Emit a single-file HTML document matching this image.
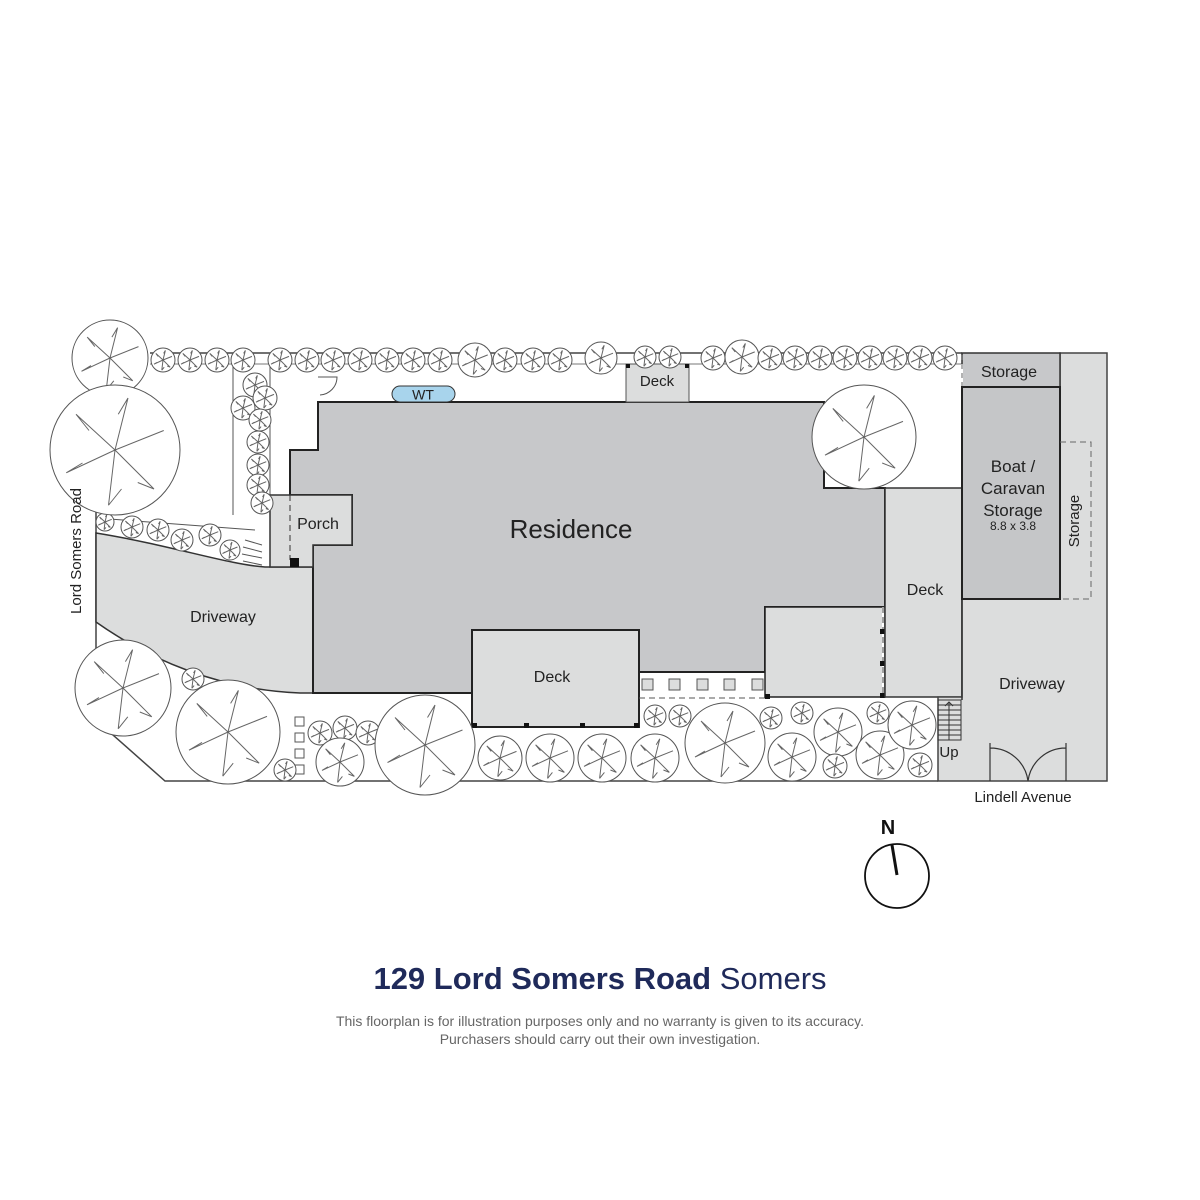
<!DOCTYPE html>
<html><head><meta charset="utf-8"><style>
html,body{margin:0;padding:0;background:#fff;}
svg{display:block;}
text{font-family:"Liberation Sans",sans-serif;fill:#222;}
</style></head><body>
<svg width="1200" height="1200" viewBox="0 0 1200 1200" xmlns="http://www.w3.org/2000/svg">
<defs>
<g id="tr">
<circle r="1" fill="#fff" stroke="#555" stroke-width="1" vector-effect="non-scaling-stroke"/>
<path d="M0,0 L0.2,-0.8 M0,0 L0.75,-0.3 M0,0 L0.6,0.6 M0,0 L-0.1,0.85 M0,0 L-0.75,0.35 M0,0 L-0.6,-0.55 M0.2,-0.8 L0.05,-0.55 M0.75,-0.3 L0.5,-0.2 M-0.75,0.35 L-0.5,0.2 M0.6,0.6 L0.35,0.5 M-0.6,-0.55 L-0.4,-0.3 M-0.1,0.85 L0.1,0.6" fill="none" stroke="#666" stroke-width="1" vector-effect="non-scaling-stroke"/>
</g>
</defs>

<!-- lot outline -->
<path d="M150,353 L962,353 M96,505 L96,720 L165,781 L938,781" fill="none" stroke="#444" stroke-width="1.5"/>
<path d="M150,364 L962,364" fill="none" stroke="#777" stroke-width="1"/>
<path d="M270,364 L270,495 M233,364 L233,515" fill="none" stroke="#555" stroke-width="1"/>

<!-- left driveway -->
<path d="M96,533 C170,545 230,565 265,567 L313,567 L313,693 L300,693 C220,690 150,660 96,622 Z" fill="#dcdddd" stroke="#333" stroke-width="1.5"/>
<path d="M96,518 L255,530" stroke="#555" fill="none"/>

<!-- residence -->
<path d="M318,402 L824,402 L824,488 L885,488 L885,607 L765,607 L765,672 L639,672 L639,630 L472,630 L472,693 L313,693 L313,545 L352,545 L352,495 L290,495 L290,450 L318,450 Z" fill="#c7c8ca" stroke="#222" stroke-width="2"/>
<path d="M270,495 L352,495 L352,545 L313,545 L313,567 L270,567 Z" fill="#dcdddd" stroke="#333" stroke-width="1.5"/>
<line x1="290" y1="495" x2="290" y2="560" stroke="#333" stroke-dasharray="6,4"/>
<rect x="290" y="558" width="9" height="9" fill="#111"/>
<rect x="626" y="364" width="63" height="38" fill="#dcdddd" stroke="#555" stroke-width="1"/>
<rect x="626" y="364" width="4" height="4" fill="#111"/><rect x="685" y="364" width="4" height="4" fill="#111"/>
<rect x="392" y="386" width="63" height="16" rx="8" fill="#a8d4ec" stroke="#333"/>
<text x="423" y="399.5" font-size="14" text-anchor="middle">WT</text>
<path d="M318,377 L337,377 A18,18 0 0 1 320,395" fill="none" stroke="#555"/>

<rect x="472" y="630" width="167" height="97" fill="#dcdddd" stroke="#222" stroke-width="2"/>
<rect x="472" y="723" width="5" height="5" fill="#111"/><rect x="524" y="723" width="5" height="5" fill="#111"/><rect x="580" y="723" width="5" height="5" fill="#111"/><rect x="634" y="723" width="5" height="5" fill="#111"/>
<g fill="#dcdddd" stroke="#555">
<rect x="642" y="679" width="11" height="11"/><rect x="669" y="679" width="11" height="11"/><rect x="697" y="679" width="11" height="11"/><rect x="724" y="679" width="11" height="11"/><rect x="752" y="679" width="11" height="11"/>
</g>
<line x1="639" y1="698" x2="765" y2="698" stroke="#555" stroke-dasharray="6,4"/>
<path d="M765,607 L885,607 L885,697 L765,697 Z" fill="#dcdddd" stroke="#222" stroke-width="1.5"/>
<line x1="883" y1="607" x2="883" y2="697" stroke="#fff" stroke-width="2"/>
<line x1="883" y1="607" x2="883" y2="697" stroke="#444" stroke-dasharray="6,4"/>
<rect x="765" y="694" width="5" height="5" fill="#111"/><rect x="880" y="629" width="5" height="5" fill="#111"/><rect x="880" y="661" width="5" height="5" fill="#111"/><rect x="880" y="693" width="5" height="5" fill="#111"/>
<rect x="885" y="488" width="77" height="209" fill="#dcdddd" stroke="#333" stroke-width="1.5"/>

<path d="M962,599 L1060,599 L1060,353 L1107,353 L1107,781 L938,781 L938,697 L962,697 Z" fill="#dcdddd" stroke="#444" stroke-width="1.5"/>
<line x1="962" y1="599" x2="962" y2="700" stroke="#333" stroke-width="1.5"/>
<rect x="962" y="353" width="98" height="34" fill="#c7c8ca" stroke="#333" stroke-width="1.5"/>
<line x1="962" y1="364" x2="962" y2="390" stroke="#fff" stroke-width="2"/>
<line x1="962" y1="355" x2="962" y2="390" stroke="#666" stroke-dasharray="5,4"/>
<rect x="962" y="387" width="98" height="212" fill="#c5c6c8" stroke="#222" stroke-width="2"/>
<path d="M1060,442 L1091,442 L1091,599 L1060,599" fill="none" stroke="#666" stroke-dasharray="6,4"/>
<g stroke="#333" stroke-width="1" fill="none">
<rect x="938" y="700" width="23" height="40"/>
<path d="M938,705H961M938,710H961M938,715H961M938,720H961M938,725H961M938,730H961M938,735H961M949,702V740M945,706L949,702L953,706"/>
</g>
<path d="M990,743 L990,781 M1066,743 L1066,781 M990,748 A38,38 0 0 1 1028,781 M1066,748 A38,38 0 0 0 1028,781" fill="none" stroke="#333" stroke-width="1.2"/>

<g fill="#fff" stroke="#555"><rect x="295" y="717" width="9" height="9"/><rect x="295" y="733" width="9" height="9"/><rect x="295" y="749" width="9" height="9"/><rect x="295" y="765" width="9" height="9"/></g>
<path d="M245,540 L262,545 M243,547 L262,552 M242,554 L262,558 M243,561 L262,565" stroke="#555"/>

<g>
<use href="#tr" transform="translate(163,360) scale(12)"/><use href="#tr" transform="translate(190,360) scale(12)"/><use href="#tr" transform="translate(217,360) scale(12)"/><use href="#tr" transform="translate(243,360) scale(12)"/><use href="#tr" transform="translate(280,360) scale(12)"/><use href="#tr" transform="translate(307,360) scale(12)"/><use href="#tr" transform="translate(333,360) scale(12)"/><use href="#tr" transform="translate(360,360) scale(12)"/><use href="#tr" transform="translate(387,360) scale(12)"/><use href="#tr" transform="translate(413,360) scale(12)"/><use href="#tr" transform="translate(440,360) scale(12)"/><use href="#tr" transform="translate(475,360) scale(17)"/><use href="#tr" transform="translate(505,360) scale(12)"/><use href="#tr" transform="translate(533,360) scale(12)"/><use href="#tr" transform="translate(560,360) scale(12)"/><use href="#tr" transform="translate(601,358) scale(16)"/><use href="#tr" transform="translate(645,357) scale(11)"/><use href="#tr" transform="translate(670,357) scale(11)"/><use href="#tr" transform="translate(713,358) scale(12)"/><use href="#tr" transform="translate(742,357) scale(17)"/><use href="#tr" transform="translate(770,358) scale(12)"/><use href="#tr" transform="translate(795,358) scale(12)"/><use href="#tr" transform="translate(820,358) scale(12)"/><use href="#tr" transform="translate(845,358) scale(12)"/><use href="#tr" transform="translate(870,358) scale(12)"/><use href="#tr" transform="translate(895,358) scale(12)"/><use href="#tr" transform="translate(920,358) scale(12)"/><use href="#tr" transform="translate(945,358) scale(12)"/>
</g>
<g>
<use href="#tr" transform="translate(255,385) scale(12)"/><use href="#tr" transform="translate(243,408) scale(12)"/><use href="#tr" transform="translate(265,398) scale(12)"/><use href="#tr" transform="translate(260,420) scale(11)"/><use href="#tr" transform="translate(258,442) scale(11)"/><use href="#tr" transform="translate(258,465) scale(11)"/><use href="#tr" transform="translate(258,485) scale(11)"/><use href="#tr" transform="translate(262,503) scale(11)"/>
<use href="#tr" transform="translate(105,522) scale(9)"/><use href="#tr" transform="translate(132,527) scale(11)"/><use href="#tr" transform="translate(158,530) scale(11)"/><use href="#tr" transform="translate(182,540) scale(11)"/><use href="#tr" transform="translate(210,535) scale(11)"/><use href="#tr" transform="translate(230,550) scale(10)"/>
</g>
<use href="#tr" transform="translate(110,358) scale(38)"/>
<use href="#tr" transform="translate(115,450) scale(65)"/>
<use href="#tr" transform="translate(864,437) scale(52)"/>
<use href="#tr" transform="translate(123,688) scale(48)"/>
<use href="#tr" transform="translate(228,732) scale(52)"/>
<use href="#tr" transform="translate(193,679) scale(11)"/>
<use href="#tr" transform="translate(285,770) scale(11)"/>
<use href="#tr" transform="translate(320,733) scale(12)"/><use href="#tr" transform="translate(345,728) scale(12)"/><use href="#tr" transform="translate(368,733) scale(12)"/>
<use href="#tr" transform="translate(340,762) scale(24)"/>
<use href="#tr" transform="translate(425,745) scale(50)"/>
<use href="#tr" transform="translate(500,758) scale(22)"/>
<use href="#tr" transform="translate(550,758) scale(24)"/>
<use href="#tr" transform="translate(602,758) scale(24)"/>
<use href="#tr" transform="translate(655,758) scale(24)"/>
<use href="#tr" transform="translate(655,716) scale(11)"/><use href="#tr" transform="translate(680,716) scale(11)"/><use href="#tr" transform="translate(771,718) scale(11)"/><use href="#tr" transform="translate(802,713) scale(11)"/><use href="#tr" transform="translate(878,713) scale(11)"/>
<use href="#tr" transform="translate(725,743) scale(40)"/>
<use href="#tr" transform="translate(792,757) scale(24)"/>
<use href="#tr" transform="translate(838,732) scale(24)"/>
<use href="#tr" transform="translate(835,766) scale(12)"/>
<use href="#tr" transform="translate(880,755) scale(24)"/>
<use href="#tr" transform="translate(912,725) scale(24)"/>
<use href="#tr" transform="translate(920,765) scale(12)"/>

<text x="571" y="538" font-size="26" text-anchor="middle">Residence</text>
<text x="318" y="529" font-size="16" text-anchor="middle">Porch</text>
<text x="657" y="386" font-size="15" text-anchor="middle">Deck</text>
<text x="223" y="622" font-size="16" text-anchor="middle">Driveway</text>
<text x="552" y="682" font-size="16" text-anchor="middle">Deck</text>
<text x="925" y="595" font-size="16" text-anchor="middle">Deck</text>
<text x="1009" y="377" font-size="16" text-anchor="middle">Storage</text>
<text x="1013" y="472" font-size="17" text-anchor="middle">Boat /</text>
<text x="1013" y="494" font-size="17" text-anchor="middle">Caravan</text>
<text x="1013" y="516" font-size="17" text-anchor="middle">Storage</text>
<text x="1013" y="530" font-size="12" text-anchor="middle">8.8 x 3.8</text>
<text transform="translate(1079,521) rotate(-90)" font-size="15" text-anchor="middle">Storage</text>
<text x="1032" y="689" font-size="16" text-anchor="middle">Driveway</text>
<text x="949" y="757" font-size="15" text-anchor="middle">Up</text>
<text x="1023" y="802" font-size="15" text-anchor="middle">Lindell Avenue</text>
<text transform="translate(81,551) rotate(-90)" font-size="15" text-anchor="middle">Lord Somers Road</text>

<text x="888" y="834" font-size="20" font-weight="bold" text-anchor="middle" style="fill:#111">N</text>
<ellipse cx="897" cy="876" rx="32" ry="32" fill="none" stroke="#111" stroke-width="1.8"/>
<line x1="892" y1="845" x2="897" y2="875" stroke="#111" stroke-width="3"/>

<text x="600" y="989" font-size="31" text-anchor="middle" style="fill:#1f2a5a"><tspan font-weight="bold">129 Lord Somers Road</tspan> Somers</text>
<text x="600" y="1026" font-size="14" text-anchor="middle" style="fill:#666">This floorplan is for illustration purposes only and no warranty is given to its accuracy.</text>
<text x="600" y="1044" font-size="14" text-anchor="middle" style="fill:#666">Purchasers should carry out their own investigation.</text>
</svg>
</body></html>
